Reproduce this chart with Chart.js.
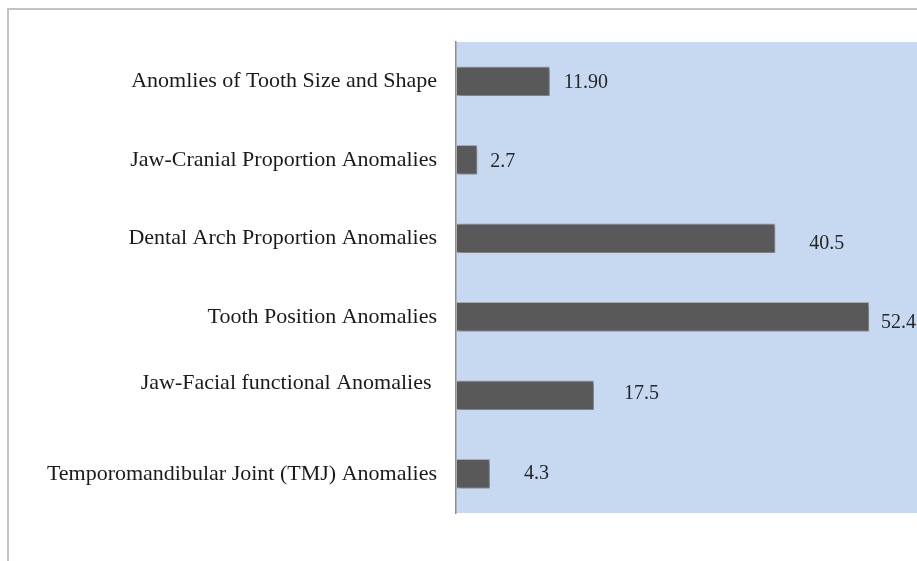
<!DOCTYPE html>
<html>
<head>
<meta charset="utf-8">
<title>Prevalence of anomalies</title>
<script src="https://cdn.jsdelivr.net/npm/chart.js@4/dist/chart.umd.min.js"></script>
<style>
  html, body { margin: 0; padding: 0; background: #fff; overflow: hidden; }
  .frame {
    position: absolute; left: 7px; top: 8px; width: 1000px; height: 1000px;
    border-left: 2px solid #c3c3c3; border-top: 2px solid #c3c3c3;
  }
  #anomalyChart { position: absolute; left: 0; top: 0; }
</style>
</head>
<body>
<div class="frame"></div>
<canvas id="anomalyChart" width="929" height="561"></canvas>
<script>
// categories, top to bottom (the Jaw-Facial one carries an empty second line)
const categories = [
  "Anomlies of Tooth Size and Shape",
  "Jaw-Cranial Proportion Anomalies",
  "Dental Arch Proportion Anomalies",
  "Tooth Position Anomalies",
  ["Jaw-Facial functional Anomalies ", ""],
  "Temporomandibular Joint (TMJ) Anomalies",
];
const percentages = [11.9, 2.7, 40.5, 52.4, 17.5, 4.3];
const decimals = [2, 1, 1, 1, 1, 1];

// where each value label sits relative to its bar end: [dx, dy]
const labelNudge = [[14, 1], [13, 2], [34, 5], [12, 6], [30, -2], [34, 0]];

const plotBackground = {
  id: "plotBackground",
  beforeDraw(chart) {
    const { ctx, chartArea: a } = chart;
    ctx.save();
    ctx.fillStyle = "#c6d9f1";
    ctx.fillRect(a.left, a.top, a.right - a.left, a.bottom - a.top);
    ctx.restore();
  },
};

const barShadow = {
  id: "barShadow",
  beforeDatasetDraw(chart) {
    const ctx = chart.ctx;
    ctx.save();
    ctx.shadowColor = "rgba(0,0,0,0.35)";
    ctx.shadowBlur = 4;
    ctx.shadowOffsetX = 2;
    ctx.shadowOffsetY = 2;
  },
  afterDatasetDraw(chart) {
    chart.ctx.restore();
  },
};

const valueLabels = {
  id: "valueLabels",
  afterDatasetsDraw(chart) {
    const ctx = chart.ctx;
    const meta = chart.getDatasetMeta(0);
    ctx.save();
    ctx.font = "20px 'Liberation Serif', 'Times New Roman', serif";
    ctx.fillStyle = "#262626";
    ctx.textAlign = "left";
    ctx.textBaseline = "middle";
    meta.data.forEach((bar, i) => {
      const [dx, dy] = labelNudge[i];
      ctx.fillText(percentages[i].toFixed(decimals[i]), bar.x + dx, bar.y + dy);
    });
    ctx.restore();
  },
};

new Chart(document.getElementById("anomalyChart"), {
  type: "bar",
  data: {
    labels: categories,
    datasets: [
      {
        data: percentages,
        backgroundColor: "#595959",
        borderColor: "#b0b0b0",
        borderWidth: 1,
        borderSkipped: false,
        barPercentage: 0.376,
        categoryPercentage: 1,
      },
    ],
  },
  options: {
    indexAxis: "y",
    responsive: false,
    animation: false,
    layout: { padding: { top: 42, bottom: 48, left: 0, right: 0 } },
    plugins: {
      legend: { display: false },
      tooltip: { enabled: false },
    },
    scales: {
      x: {
        display: false,
        min: 0,
        max: 60,
      },
      y: {
        afterFit(scale) {
          scale.width = 456;
        },
        grid: { display: false, drawTicks: false },
        border: { display: true, color: "#8e8e8e", width: 1.5 },
        ticks: {
          padding: 19,
          color: "#1a1a1a",
          font: { family: "'Liberation Serif', 'Times New Roman', serif", size: 22, lineHeight: 1.1 },
        },
      },
    },
  },
  plugins: [plotBackground, barShadow, valueLabels],
});
</script>
</body>
</html>
